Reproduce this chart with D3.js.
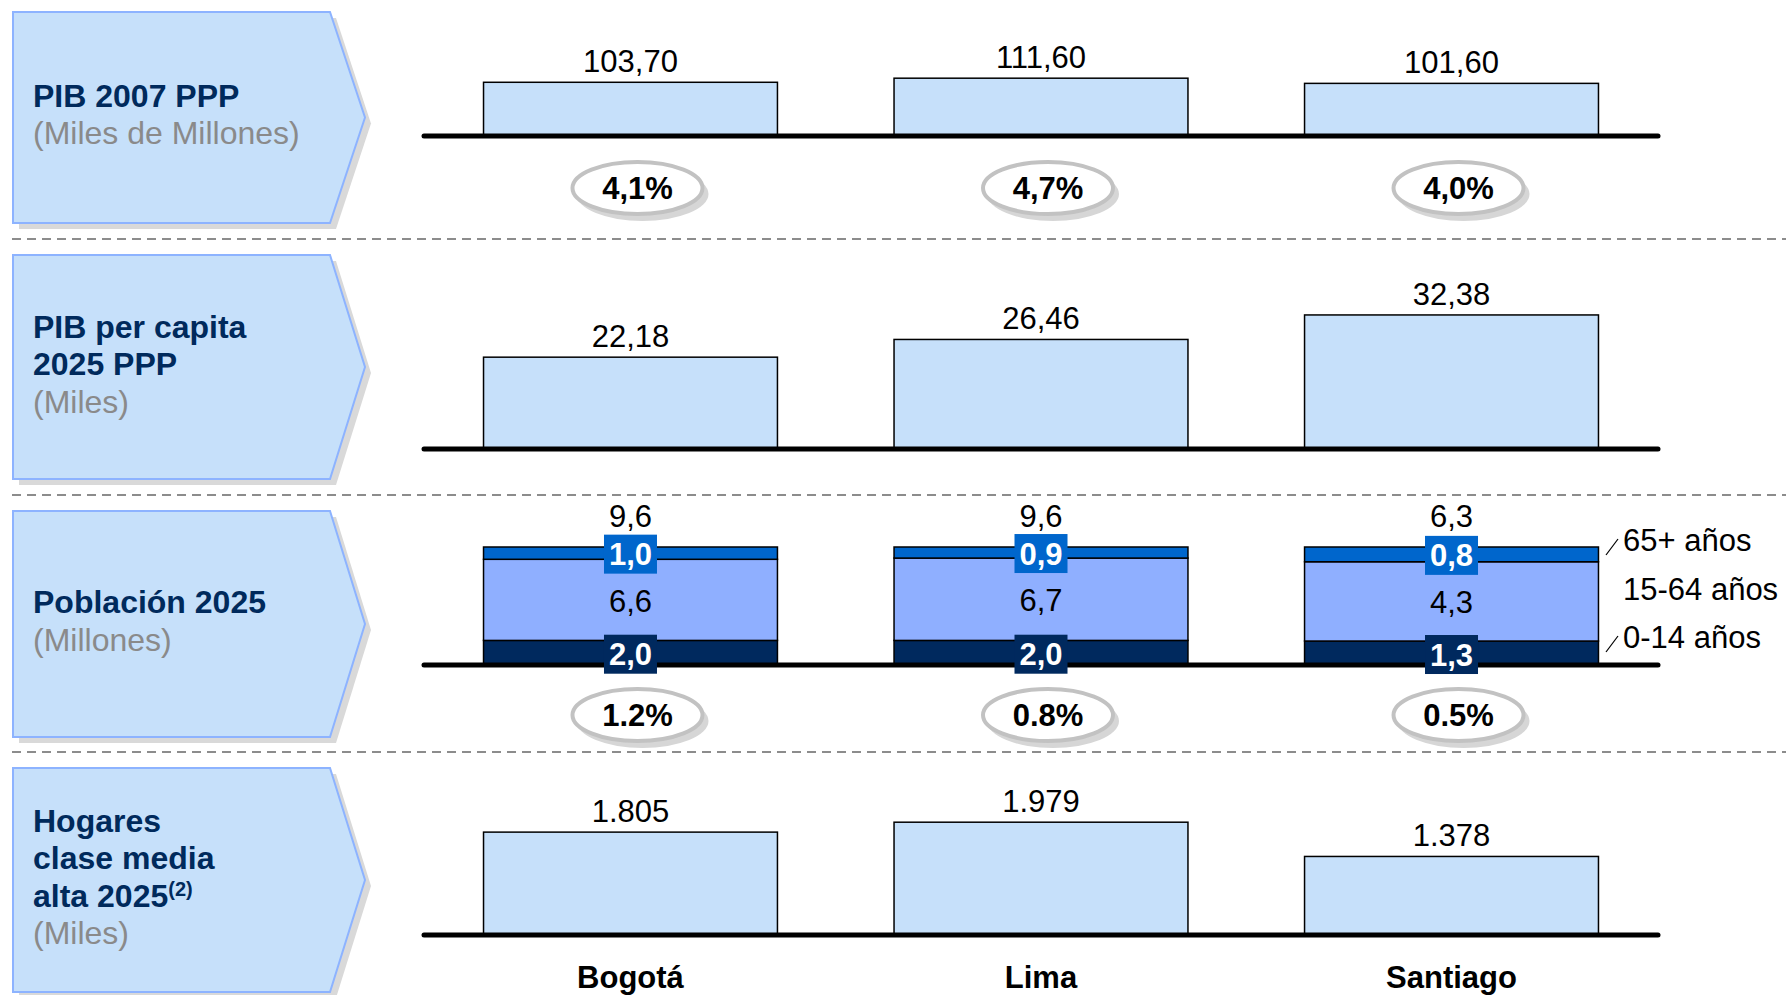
<!DOCTYPE html>
<html><head><meta charset="utf-8">
<script src="https://cdn.jsdelivr.net/npm/d3@7"></script>
<style>html,body{margin:0;padding:0;background:#fff;}svg{display:block;}</style>
</head><body>
<svg id="chart" width="1786" height="995"></svg>
<script>
// ---------------- DATA ----------------
const cities = ["Bogotá", "Lima", "Santiago"];
const pib2007 = [103.70, 111.60, 101.60];
const pibGrowth = [4.1, 4.7, 4.0];
const pibPerCapita = [22.18, 26.46, 32.38];
const popTotal = [9.6, 9.6, 6.3];
const pop0_14 = [2.0, 2.0, 1.3];
const pop15_64 = [6.6, 6.7, 4.3];
const pop65 = [1.0, 0.9, 0.8];
const popGrowth = [1.2, 0.8, 0.5];
const hogares = [1805, 1979, 1378];
const ageGroups = ["0-14 años", "15-64 años", "65+ años"];
const rowTitles = [["PIB 2007 PPP"], ["PIB per capita", "2025 PPP"], ["Población 2025"], ["Hogares", "clase media", "alta 2025"]];
const rowUnits = ["(Miles de Millones)", "(Miles)", "(Millones)", "(Miles)"];
const rowNotes = ["", "", "", "(2)"];

// ---------------- SETUP ----------------
const svg = d3.select("#chart");
const FONT = "'Liberation Sans', Arial, Helvetica, sans-serif";
const es = d3.formatLocale({decimal: ",", thousands: ".", grouping: [3], currency: ["", ""]});
const fmt2 = es.format(".2f"), fmt1 = es.format(".1f"), fmtInt = es.format(",d");
const fmtPct1 = d => es.format(".1f")(d) + "%";
const fmtPct1Dot = d => d3.format(".1f")(d) + "%";

const C = {
  boxFill: "#C6E0FA", boxStroke: "#8DB3FF", shadow: "#D9D9D9",
  barFill: "#C6E0FA", title: "#002A5C", unit: "#8A8A8A",
  seg: ["#00295E", "#8FAFFF", "#0066CC"]
};

// row layout
const rows = [
  {top: 12, bottom: 223, base: 136},
  {top: 255, bottom: 479, base: 449},
  {top: 511, bottom: 737, base: 665},
  {top: 768, bottom: 992, base: 935}
];
const sepY = [239, 495, 752];

const x = d3.scaleBand().domain(cities).range([424, 1658]).paddingInner(0.284).paddingOuter(0.145);
const bw = x.bandwidth();

// ---------------- SEPARATORS ----------------
svg.append("g").selectAll("line").data(sepY).join("line")
  .attr("x1", 12).attr("x2", 1786).attr("y1", d => d).attr("y2", d => d)
  .attr("stroke", "#8C8C8C").attr("stroke-width", 2).attr("stroke-dasharray", "9,6");

// ---------------- ROW HEADER BOXES ----------------
rows.forEach((r, i) => {
  const mid = (r.top + r.bottom) / 2;
  const pts = (dx, dy) => [[13, r.top], [330, r.top], [365, mid], [330, r.bottom], [13, r.bottom]]
    .map(p => [p[0] + dx, p[1] + dy].join(",")).join(" ");
  svg.append("polygon").attr("points", pts(6, 6)).attr("fill", C.shadow);
  svg.append("polygon").attr("points", pts(0, 0)).attr("fill", C.boxFill)
    .attr("stroke", C.boxStroke).attr("stroke-width", 2);
  const lines = rowTitles[i];
  const n = lines.length + 1;
  const lh = 37.5;
  const y0 = mid - (n - 1) * lh / 2 + 8;
  const t = svg.append("text").attr("font-family", FONT).attr("font-size", 32);
  lines.forEach((ln, k) => {
    t.append("tspan").attr("x", 33).attr("y", y0 + k * lh)
      .attr("font-weight", "bold").attr("fill", C.title).text(ln);
    if (k === lines.length - 1 && rowNotes[i]) {
      t.append("tspan").attr("dy", -11).attr("font-size", 20).attr("font-weight", "bold")
        .attr("fill", C.title).text(rowNotes[i]);
    }
  });
  t.append("tspan").attr("x", 33).attr("y", y0 + lines.length * lh)
    .attr("fill", C.unit).text(rowUnits[i]);
});

// ---------------- HELPERS ----------------
function simpleRow(r, values, domainMax, pxHeight, fmt) {
  const y = d3.scaleLinear().domain([0, domainMax]).range([r.base, r.base - pxHeight]);
  const g = svg.append("g");
  const data = cities.map((c, i) => ({c, v: values[i]}));
  g.selectAll("rect").data(data).join("rect")
    .attr("x", d => x(d.c)).attr("width", bw)
    .attr("y", d => y(d.v)).attr("height", d => r.base - y(d.v))
    .attr("fill", C.barFill).attr("stroke", "#000").attr("stroke-width", 1.5);
  g.selectAll("text").data(data).join("text")
    .attr("x", d => x(d.c) + bw / 2).attr("y", d => y(d.v) - 10)
    .attr("text-anchor", "middle").attr("font-family", FONT).attr("font-size", 31)
    .attr("fill", "#000").text(d => fmt(d.v));
}
function baseline(r) {
  svg.append("line").attr("x1", 424).attr("x2", 1658).attr("y1", r.base).attr("y2", r.base)
    .attr("stroke", "#000").attr("stroke-width", 5).attr("stroke-linecap", "round");
}
function growthRow(r, values, fmt, dy) {
  const g = svg.append("g");
  const data = cities.map((c, i) => ({c, v: values[i]}));
  const cx = d => x(d.c) + bw / 2 + 7;
  const cy = r.base + dy;
  g.selectAll("ellipse.sh").data(data).join("ellipse").attr("class", "sh")
    .attr("cx", d => cx(d) + 5).attr("cy", cy + 6).attr("rx", 66).attr("ry", 27)
    .attr("fill", "#D6D6D6");
  g.selectAll("ellipse.main").data(data).join("ellipse").attr("class", "main")
    .attr("cx", cx).attr("cy", cy).attr("rx", 65).attr("ry", 26)
    .attr("fill", "#fff").attr("stroke", "#C2C2C2").attr("stroke-width", 4);
  g.selectAll("text").data(data).join("text")
    .attr("x", cx).attr("y", cy + 11).attr("text-anchor", "middle")
    .attr("font-family", FONT).attr("font-size", 31).attr("font-weight", "bold")
    .attr("fill", "#000").text(d => fmt(d.v));
}

// Row 1
simpleRow(rows[0], pib2007, 200, 103.6, fmt2);
baseline(rows[0]);
growthRow(rows[0], pibGrowth, fmtPct1, 52);

// Row 2
simpleRow(rows[1], pibPerCapita, 40, 165.6, fmt2);
baseline(rows[1]);

// Row 3 : stacked 100%
(function () {
  const r = rows[2];
  const y = d3.scaleLinear().domain([0, 1]).range([r.base, r.base - 118]);
  const data = cities.map((c, i) => ({c, a: pop0_14[i], b: pop15_64[i], d: pop65[i], total: popTotal[i]}));
  const keys = ["a", "b", "d"];
  const stack = d3.stack().keys(keys).offset(d3.stackOffsetExpand)(data);
  const g = svg.append("g");
  stack.forEach((layer, li) => {
    g.append("g").selectAll("rect").data(layer).join("rect")
      .attr("x", d => x(d.data.c)).attr("width", bw)
      .attr("y", d => y(d[1])).attr("height", d => y(d[0]) - y(d[1]))
      .attr("fill", C.seg[li]).attr("stroke", "#000").attr("stroke-width", 1.5);
  });
  baseline(r);
  // labels
  const lgAll = svg.append("g");
  stack.forEach((layer, li) => {
    layer.forEach(d => {
      const cx = x(d.data.c) + bw / 2;
      const cy = (y(d[0]) + y(d[1])) / 2 + (li === 0 ? 1.5 : 1);
      const val = d.data[keys[li]];
      if (li !== 1) {
        lgAll.append("rect").attr("x", cx - 26.5).attr("y", cy - 19.5).attr("width", 53).attr("height", 39)
          .attr("fill", C.seg[li]);
        lgAll.append("text").attr("x", cx).attr("y", cy + 11).attr("text-anchor", "middle")
          .attr("font-family", FONT).attr("font-size", 31).attr("font-weight", "bold")
          .attr("fill", "#fff").text(fmt1(val));
      } else {
        lgAll.append("text").attr("x", cx).attr("y", cy + 11).attr("text-anchor", "middle")
          .attr("font-family", FONT).attr("font-size", 31)
          .attr("fill", "#000").text(fmt1(val));
      }
    });
  });
  lgAll.selectAll("text.total").data(data).join("text").attr("class", "total")
    .attr("x", d => x(d.c) + bw / 2).attr("y", y(1) - 20).attr("text-anchor", "middle")
    .attr("font-family", FONT).attr("font-size", 31).attr("fill", "#000")
    .text(d => fmt1(d.total));
  // legend
  const legendBase = [r.base - 17, r.base - 65, r.base - 114];
  const lg = svg.append("g");
  ageGroups.forEach((a, i) => {
    lg.append("text").attr("x", 1623).attr("y", legendBase[i])
      .attr("font-family", FONT).attr("font-size", 31).attr("fill", "#000").text(a);
    if (i !== 1) {
      lg.append("line").attr("x1", 1606).attr("y1", legendBase[i] + 4)
        .attr("x2", 1618).attr("y2", legendBase[i] - 12)
        .attr("stroke", "#000").attr("stroke-width", 1.2);
    }
  });
  growthRow(r, popGrowth, fmtPct1Dot, 50);
})();

// Row 4
simpleRow(rows[3], hogares, 2500, 142.5, fmtInt);
baseline(rows[3]);

// Category labels
svg.append("g").selectAll("text").data(cities).join("text")
  .attr("x", d => x(d) + bw / 2).attr("y", 988).attr("text-anchor", "middle")
  .attr("font-family", FONT).attr("font-size", 31).attr("font-weight", "bold")
  .attr("fill", "#000").text(d => d);
</script>
</body></html>
